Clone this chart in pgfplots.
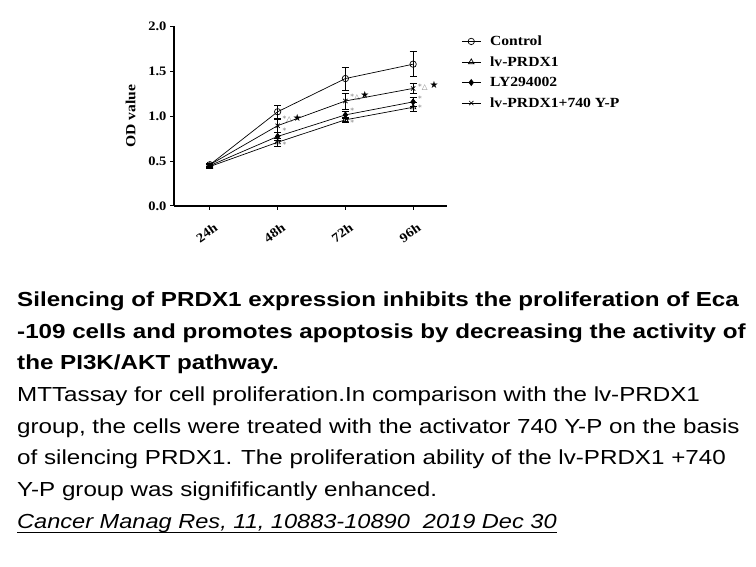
\documentclass[border=0pt]{standalone}
\usepackage{pgfplots}
\pgfplotsset{compat=1.18}
\usepackage{fontspec}
\setmainfont[FakeStretch=1.12]{Liberation Serif}
\newfontfamily\capfont[FakeStretch=1.19]{Liberation Sans}
\newfontfamily\capfontit[FakeStretch=1.16]{Liberation Sans}
\newfontfamily\symfont{DejaVu Sans}
\begin{document}
\begin{tikzpicture}[x=1bp,y=1bp]
\useasboundingbox (0,0) rectangle (756,567);
\fill[white] (0,0) rectangle (756,567);
\begin{axis}[
  at={(174bp,361bp)}, anchor=south west,
  scale only axis, width=273bp, height=179.5bp,
  xmin=-0.53, xmax=3.5, ymin=0, ymax=2,
  axis x line*=bottom, axis y line*=left,
  axis line style={line width=1.1pt},
  every tick/.style={black, line width=1pt},
  tick align=outside, major tick length=4bp,
  xtick={0,1,2,3}, xticklabels={24h,48h,72h,96h},
  ytick={0,0.5,1,1.5,2},
  yticklabel style={/pgf/number format/.cd, fixed, fixed zerofill, precision=1},
  /pgf/number format/assume math mode=true,
  tick label style={font=\fontsize{13}{13}\selectfont\bfseries},
  xticklabel style={rotate=35, anchor=north east, xshift=-1bp, yshift=-9bp},
  ylabel={OD value},
  ylabel style={font=\fontsize{14}{14}\selectfont\bfseries, yshift=6bp},
  legend style={at={(axis description cs:1.052,0.96)}, anchor=north west, draw=none, fill=none,
    font=\fontsize{14}{14}\selectfont\bfseries, row sep=5.5bp, column sep=7bp, inner sep=0pt},
  legend image code/.code={%
    \draw[mark repeat=2,mark phase=2] plot coordinates {(0bp,0bp) (9.5bp,0bp) (19bp,0bp)};},
  legend cell align=left,
  every axis plot/.append style={black, line width=0.7pt},
  error bars/error bar style={line width=0.7pt},
  error bars/error mark options={rotate=90, mark size=3.5bp, line width=0.7pt},
]
\addplot[mark=o, mark size=3.2bp, mark options={fill=white},
  error bars/.cd, y dir=both, y explicit]
  coordinates {(0,0.46) +- (0,0.02) (1,1.05) +- (0,0.075) (2,1.42) +- (0,0.13) (3,1.58) +- (0,0.14)};
\addlegendentry{Control}
\addplot[mark=triangle, mark size=3.2bp, mark options={fill=white},
  error bars/.cd, y dir=both, y explicit]
  coordinates {(0,0.44) +- (0,0.02) (1,0.71) +- (0,0.04) (2,0.96) +- (0,0.03) (3,1.10) +- (0,0.05)};
\addlegendentry{lv-PRDX1}
\addplot[mark=diamond*, mark size=3bp,
  error bars/.cd, y dir=both, y explicit]
  coordinates {(0,0.45) +- (0,0.02) (1,0.775) +- (0,0.04) (2,1.015) +- (0,0.04) (3,1.16) +- (0,0.05)};
\addlegendentry{LY294002}
\addplot[mark=x, mark size=3bp,
  error bars/.cd, y dir=both, y explicit]
  coordinates {(0,0.46) +- (0,0.02) (1,0.895) +- (0,0.07) (2,1.17) +- (0,0.09) (3,1.31) +- (0,0.055)};
\addlegendentry{lv-PRDX1+740 Y-P}
% significance marks
\node[anchor=west, inner sep=0pt, font=\fontsize{7.5}{7.5}\selectfont\symfont, text=gray] at (axis cs:1.07,0.966) {*△};
\node[anchor=west, inner sep=0pt, font=\fontsize{10}{10}\selectfont\symfont] at (axis cs:1.22,0.985) {★};
\node[anchor=west, inner sep=0pt, font=\fontsize{7.5}{7.5}\selectfont\symfont, text=gray] at (axis cs:2.07,1.21) {*△};
\node[anchor=west, inner sep=0pt, font=\fontsize{10}{10}\selectfont\symfont] at (axis cs:2.22,1.238) {★};
\node[anchor=west, inner sep=0pt, font=\fontsize{7.5}{7.5}\selectfont\symfont, text=gray] at (axis cs:3.07,1.32) {*△};
\node[anchor=west, inner sep=0pt, font=\fontsize{10}{10}\selectfont\symfont] at (axis cs:3.24,1.35) {★};
\node[anchor=west, inner sep=0pt, font=\fontsize{7.5}{7.5}\selectfont\symfont, text=gray] at (axis cs:1.07,0.84) {*};
\node[anchor=west, inner sep=0pt, font=\fontsize{7.5}{7.5}\selectfont\symfont, text=gray] at (axis cs:1.07,0.68) {*};
\node[anchor=west, inner sep=0pt, font=\fontsize{7.5}{7.5}\selectfont\symfont, text=gray] at (axis cs:2.07,1.063) {*};
\node[anchor=west, inner sep=0pt, font=\fontsize{7.5}{7.5}\selectfont\symfont, text=gray] at (axis cs:2.07,0.93) {*};
\node[anchor=west, inner sep=0pt, font=\fontsize{7.5}{7.5}\selectfont\symfont, text=gray] at (axis cs:3.07,1.19) {*};
\node[anchor=west, inner sep=0pt, font=\fontsize{7.5}{7.5}\selectfont\symfont, text=gray] at (axis cs:3.07,1.097) {*};
\end{axis}
\begin{scope}[every node/.style={anchor=base west, inner sep=0pt}]
\node[font=\fontsize{20.4}{20}\selectfont\capfont\bfseries] at (17,{567-307}) {Silencing of PRDX1 expression inhibits the proliferation of Eca};
\node[font=\fontsize{20.4}{20}\selectfont\capfont\bfseries] at (17,{567-339}) {-109 cells and promotes apoptosis by decreasing the activity of};
\node[font=\fontsize{20.4}{20}\selectfont\capfont\bfseries] at (17,{567-370}) {the PI3K/AKT pathway.};
\node[font=\fontsize{20.4}{20}\selectfont\capfont] at (17,{567-402}) {MTTassay for cell proliferation.In comparison with the lv-PRDX1};
\node[font=\fontsize{20.4}{20}\selectfont\capfont] at (17,{567-434}) {group, the cells were treated with the activator 740 Y-P on the basis};
\node[font=\fontsize{20.4}{20}\selectfont\capfont] at (17,{567-465}) {of silencing PRDX1. The proliferation ability of the lv-PRDX1 +740};
\node[font=\fontsize{20.4}{20}\selectfont\capfont] at (17,{567-497}) {Y-P group was signifificantly enhanced.};
\node[font=\fontsize{20.4}{20}\selectfont\capfontit\itshape] (ref) at (17,{567-529}) {Cancer Manag Res, 11, 10883-10890\ \ 2019 Dec 30};
\draw[line width=1pt] (17,{567-533}) -- (ref.base east |- 0,{567-533});
\end{scope}
\end{tikzpicture}
\end{document}
